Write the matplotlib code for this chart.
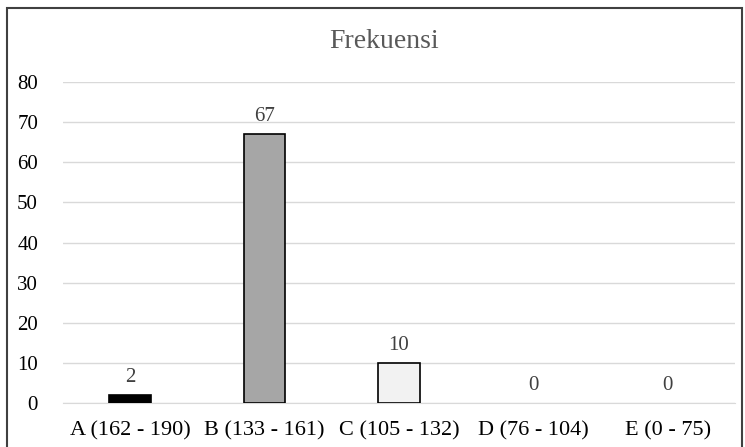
import matplotlib
matplotlib.use("Agg")
import matplotlib.pyplot as plt
from matplotlib.patches import Rectangle

# data
categories = ["A (162 - 190)", "B (133 - 161)", "C (105 - 132)", "D (76 - 104)", "E (0 - 75)"]
frekuensi = [2, 67, 10, 0, 0]
bar_colors = ["#000000", "#a6a6a6", "#f2f2f2", "#ffffff", "#ffffff"]
yticks = [0, 10, 20, 30, 40, 50, 60, 70, 80]

plt.rcParams['font.family'] = ['Liberation Serif', 'DejaVu Serif']

fig = plt.figure(figsize=(7.45, 4.47), dpi=100)
ax = fig.add_axes([63 / 745, 44 / 447, 672 / 745, 321 / 447])

x = list(range(len(categories)))
# empty bars get no outline, like the original
edge_w = [1.2 if v > 0 else 0 for v in frekuensi]
ax.bar(x, frekuensi, width=0.31, color=bar_colors, edgecolor="#000000", linewidth=edge_w, zorder=3)
for xi, v in zip(x, frekuensi):
    ax.text(xi, v + 2.0, str(v), ha="center", va="bottom", fontsize=15, color="#404040")

ax.set_xlim(-0.5, len(categories) - 0.5)
ax.set_ylim(0, 80)
ax.set_yticks(yticks)
ax.set_xticks(x)
ax.set_xticklabels(categories, fontsize=16, color="#000000")
ax.tick_params(axis="y", labelsize=15, length=0, pad=18, colors="#000000")
ax.tick_params(axis="x", length=0, pad=13)
ax.grid(axis="y", color="#d9d9d9", linewidth=1, zorder=0)
for s in ["top", "right", "left"]:
    ax.spines[s].set_visible(False)
ax.spines["bottom"].set_color("#d9d9d9")

fig.text(384 / 745, 1 - 41 / 447, "Frekuensi", ha="center", va="center", fontsize=20, color="#595959")

# outer chart border (bottom is cut off in the original)
fig.patches.append(Rectangle((7 / 745, -0.1), 735 / 745, 1.1 - 8 / 447,
                             transform=fig.transFigure, fill=False,
                             edgecolor="#404040", linewidth=1.5))

fig.savefig("out.png", dpi=100)
